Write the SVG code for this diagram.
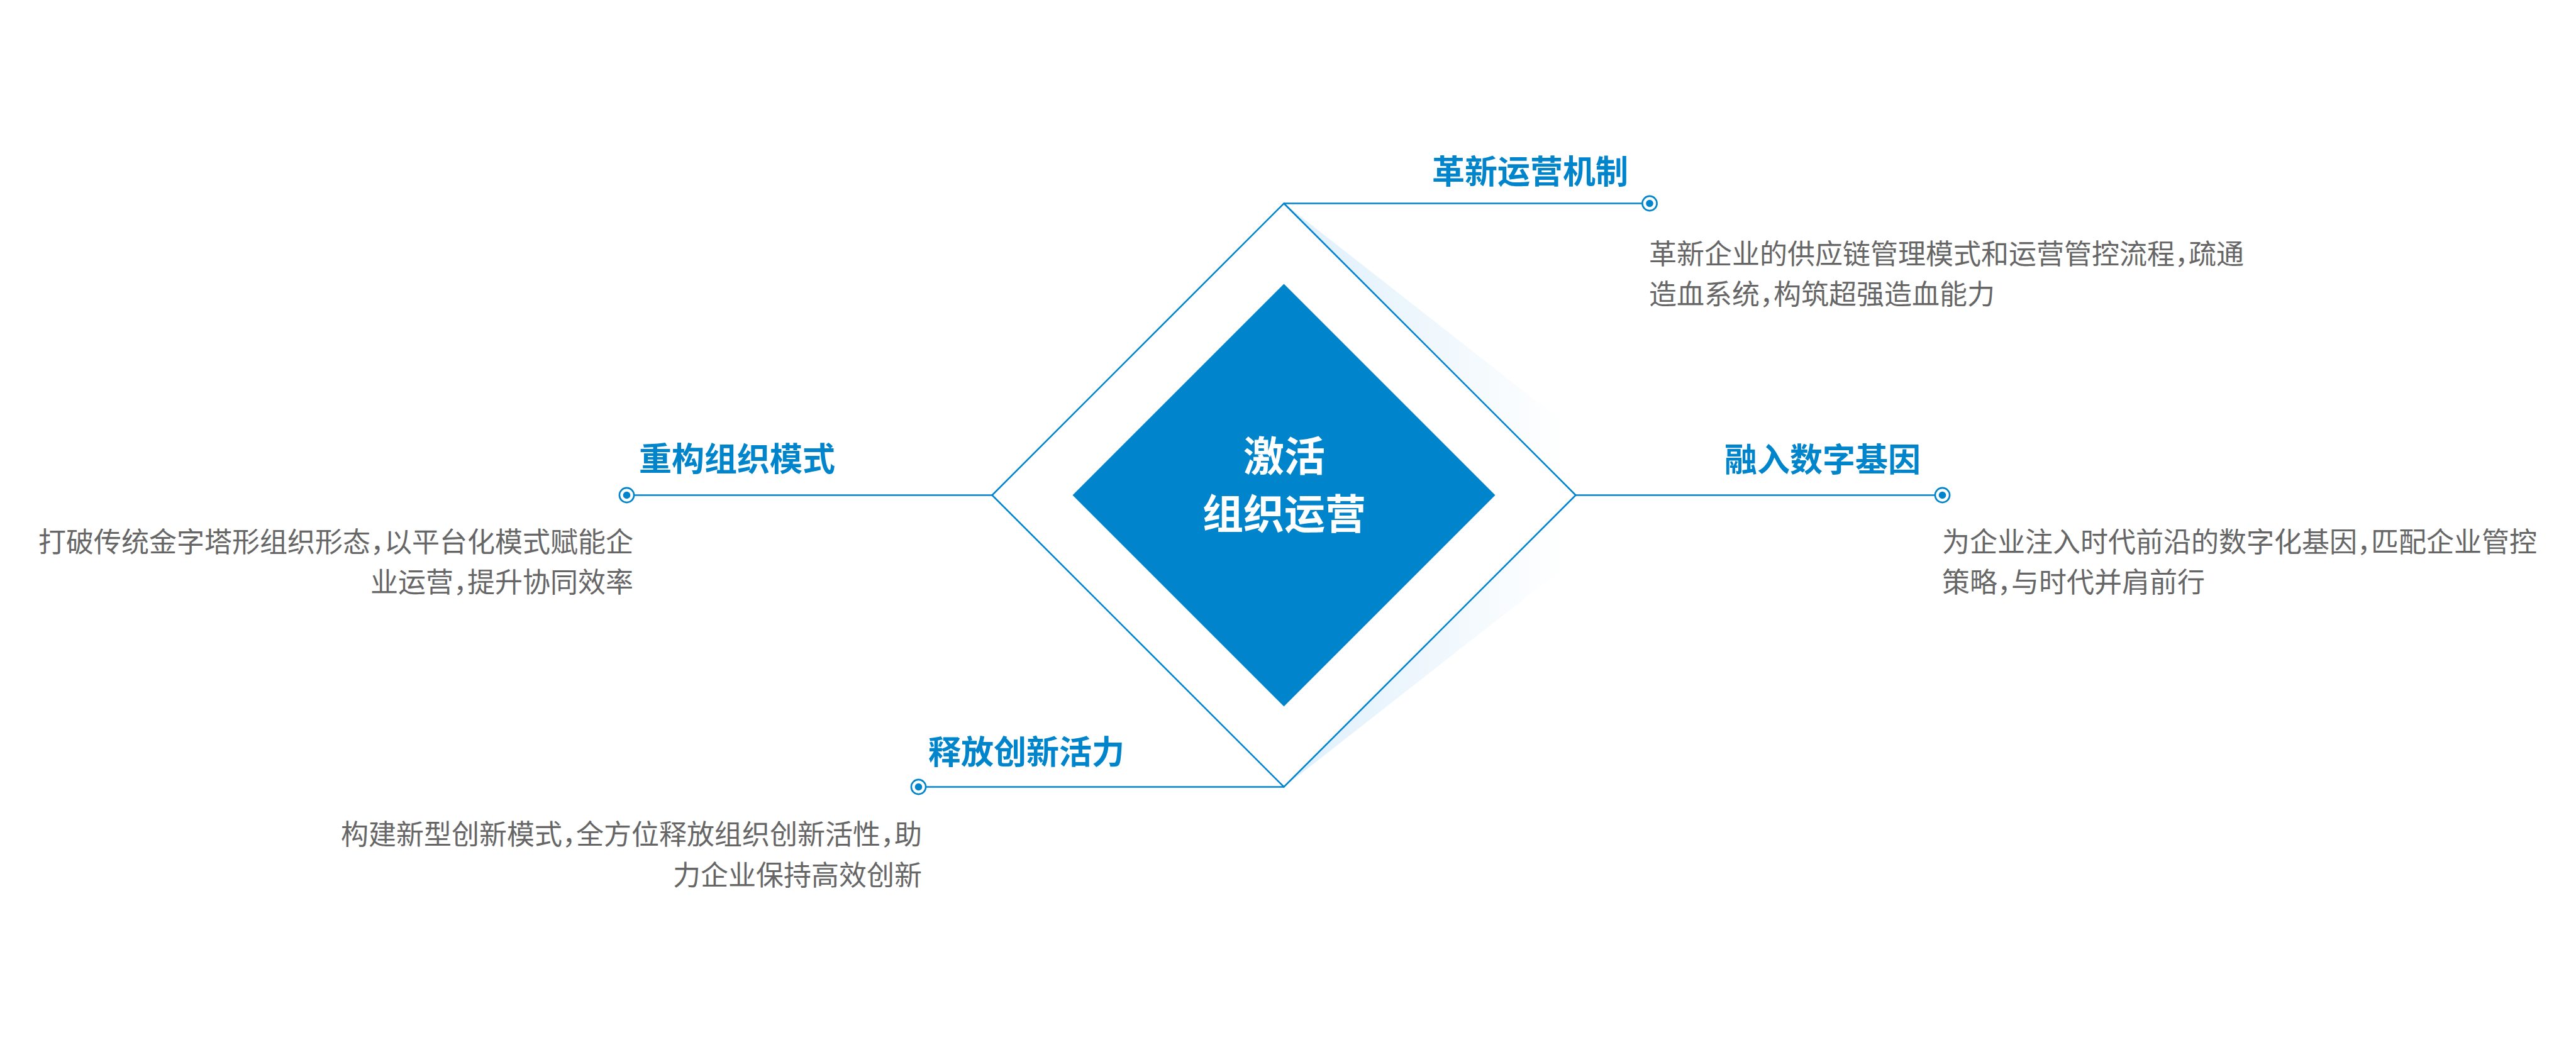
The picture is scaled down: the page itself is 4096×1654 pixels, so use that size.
<svg xmlns="http://www.w3.org/2000/svg" width="4096" height="1654" viewBox="0 0 4096 1654">
<defs>
<style>
.ln{stroke:#0085cd;stroke-width:2.6;fill:none}
.ring{stroke:#0085cd;stroke-width:2.6;fill:#fff}
.dot{fill:#0085cd}
.tt{font-family:"Noto Sans CJK SC","Noto Sans",sans-serif;font-weight:700;font-size:52px;fill:#0085cd}
.ds{font-family:"Noto Sans CJK SC","Noto Sans",sans-serif;font-weight:400;font-size:44px;fill:#666666}
.ct{font-family:"Noto Sans CJK SC","Noto Sans",sans-serif;font-weight:700;font-size:65px;fill:#ffffff}
.cm{letter-spacing:-22px}
</style>
<linearGradient id="sh" gradientUnits="userSpaceOnUse" x1="2041.5" y1="0" x2="2490" y2="0">
<stop offset="0" stop-color="#deeffb"/>
<stop offset="1" stop-color="#ffffff"/>
</linearGradient>
</defs>
<rect width="4096" height="1654" fill="#ffffff"/>
<g id="center">
<polygon points="2041.5,323.5 2634,787.5 2041.5,1251.5 2505.5,787.5" fill="url(#sh)"/>
<polygon class="ln" points="2041.5,323.5 2505.5,787.5 2041.5,1251.5 1577.5,787.5" style="fill:#fff"/>
<polygon points="2041.5,451.5 2377.5,787.5 2041.5,1123.5 1705.5,787.5" fill="#0085cd"/>
<text class="ct" x="2042" y="749.4" text-anchor="middle">激活</text>
<text class="ct" x="2042" y="841.4" text-anchor="middle">组织运营</text>
</g>
<g id="connectors">
<line class="ln" x1="2041.5" y1="323.5" x2="2623" y2="323.5"/>
<line class="ln" x1="2505.5" y1="787.5" x2="3088.5" y2="787.5"/>
<line class="ln" x1="1577.5" y1="787.5" x2="996.5" y2="787.5"/>
<line class="ln" x1="2041.5" y1="1251.5" x2="1460.5" y2="1251.5"/>
</g>
<g id="node-top">
<circle class="ring" cx="2623" cy="323.5" r="11.6"/>
<circle class="dot" cx="2623" cy="323.5" r="5.8"/>
<text class="tt" x="2589" y="291.6" text-anchor="end">革新运营机制</text>
<text class="ds" x="2622" y="419.7">革新企业的供应链管理模式和运营管控流程<tspan class="cm">，</tspan>疏通</text>
<text class="ds" x="2622" y="484.2">造血系统<tspan class="cm">，</tspan>构筑超强造血能力</text>
</g>
<g id="node-right">
<circle class="ring" cx="3088.5" cy="787.5" r="11.6"/>
<circle class="dot" cx="3088.5" cy="787.5" r="5.8"/>
<text class="tt" x="3054" y="750" text-anchor="end">融入数字基因</text>
<text class="ds" x="3088" y="878.2">为企业注入时代前沿的数字化基因<tspan class="cm">，</tspan>匹配企业管控</text>
<text class="ds" x="3088" y="942.1">策略<tspan class="cm">，</tspan>与时代并肩前行</text>
</g>
<g id="node-left">
<circle class="ring" cx="996.5" cy="787.5" r="11.6"/>
<circle class="dot" cx="996.5" cy="787.5" r="5.8"/>
<text class="tt" x="1016" y="749.3">重构组织模式</text>
<text class="ds" x="1007" y="877.5" text-anchor="end">打破传统金字塔形组织形态<tspan class="cm">，</tspan>以平台化模式赋能企</text>
<text class="ds" x="1007" y="941.7" text-anchor="end">业运营<tspan class="cm">，</tspan>提升协同效率</text>
</g>
<g id="node-bottom">
<circle class="ring" cx="1460.5" cy="1251.5" r="11.6"/>
<circle class="dot" cx="1460.5" cy="1251.5" r="5.8"/>
<text class="tt" x="1476" y="1215.3">释放创新活力</text>
<text class="ds" x="1466" y="1343.2" text-anchor="end">构建新型创新模式<tspan class="cm">，</tspan>全方位释放组织创新活性<tspan class="cm">，</tspan>助</text>
<text class="ds" x="1466" y="1408" text-anchor="end">力企业保持高效创新</text>
</g>
</svg>
